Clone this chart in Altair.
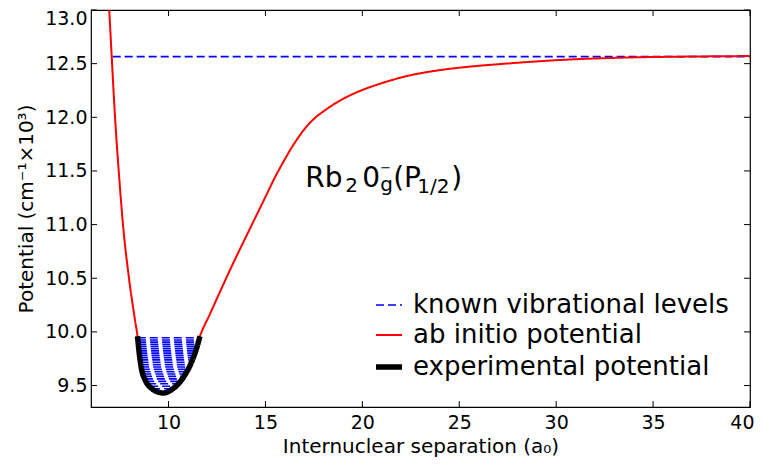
import altair as alt
import pandas as pd

# ---------------- data ----------------
series_names = ["known vibrational levels", "ab initio potential", "experimental potential"]
series_colors = ["#0000ff", "#ff0000", "#000000"]
series_dash = [[8, 4], [1, 0], [1, 0]]
series_width = [1.6, 2, 5.5]

# experimental potential (black, thick)
exp_x = [8.40, 8.49, 8.60, 8.80, 9.15, 9.45, 9.75, 10.10, 10.42, 10.85, 11.28, 11.50, 11.62]
exp_y = [9.96, 9.80, 9.66, 9.55, 9.47, 9.44, 9.43, 9.455, 9.50, 9.60, 9.76, 9.88, 9.96]

# ab initio potential (red): inner wall, well, outer wall
ab_x = [6.94, 7.07, 7.24, 7.43, 7.65, 7.96, 8.27,
        8.40, 8.49, 8.60, 8.80, 9.15, 9.45, 9.75, 10.10, 10.42, 10.85, 11.28, 11.62,
        12.14, 12.69, 13.33, 14.00, 14.67, 15.07, 15.49, 15.91, 16.27, 16.68, 17.13, 17.56,
        17.99, 18.85, 19.67, 20.55, 21.43, 22.29, 24.01, 25.71, 27.10, 30.20, 33.64, 36.91, 40.0]
ab_y = [13.0, 12.56, 12.0, 11.5, 11.0, 10.5, 10.11,
        9.96, 9.80, 9.66, 9.55, 9.47, 9.44, 9.43, 9.455, 9.50, 9.60, 9.77, 9.96,
        10.168, 10.388, 10.638, 10.888, 11.136, 11.284, 11.440, 11.580, 11.693, 11.808, 11.916, 11.995,
        12.055, 12.156, 12.230, 12.291, 12.342, 12.384, 12.440, 12.475, 12.496, 12.534, 12.557, 12.566, 12.571]

# known vibrational levels (blue dashed), energies and turning points
lev_y = [9.470, 9.493, 9.516, 9.539, 9.562, 9.585, 9.607, 9.629, 9.651, 9.673, 9.695, 9.717,
         9.739, 9.760, 9.781, 9.802, 9.823, 9.844, 9.865, 9.885, 9.905, 9.925, 9.945]
lev_left = [9.15, 9.05, 8.95, 8.85, 8.78, 8.74, 8.70, 8.66, 8.62, 8.59, 8.57, 8.555,
            8.54, 8.52, 8.505, 8.49, 8.48, 8.465, 8.455, 8.44, 8.43, 8.42, 8.41]
lev_right = [10.21, 10.37, 10.49, 10.59, 10.69, 10.79, 10.87, 10.93, 10.99, 11.05, 11.10, 11.16,
             11.22, 11.28, 11.32, 11.36, 11.40, 11.43, 11.47, 11.51, 11.54, 11.58, 11.60]
# top known level line
top_level_y = 12.565
top_level_x = [7.12, 40.0]

x_ticks = [10, 15, 20, 25, 30, 35, 40]
y_ticks = [9.5, 10.0, 10.5, 11.0, 11.5, 12.0, 12.5, 13.0]
x_domain = [6, 40]
y_domain = [9.3, 13.0]

# annotation anchor (data coords) and pieces
ann_x, ann_y = 17.05, 11.352
ann_pieces = [  # text, size, dx, dy
    ("Rb", 28, 0, 0),
    ("2", 20, 40, 5),
    ("0", 28, 57, 0),
    ("\u2212", 13, 75, -15),
    ("g", 20, 75, 4),
    ("(P", 28, 88, 0),
    ("1/2", 20, 112, 6),
    (")", 28, 146, 0),
]

# ---------------- build tables ----------------
lev_rows = []
for i, (yv, l, r) in enumerate(zip(lev_y, lev_left, lev_right)):
    lev_rows.append({"x": l, "y": yv, "series": series_names[0], "grp": f"v{i}"})
    lev_rows.append({"x": r, "y": yv, "series": series_names[0], "grp": f"v{i}"})
for xv in top_level_x:
    lev_rows.append({"x": xv, "y": top_level_y, "series": series_names[0], "grp": "top"})
lev_df = pd.DataFrame(lev_rows)

ab_df = pd.DataFrame({"x": ab_x, "y": ab_y, "series": series_names[1]})
exp_df = pd.DataFrame({"x": exp_x, "y": exp_y, "series": series_names[2]})

FONT = "DejaVu Sans"
W, H = 659, 397

xscale = alt.Scale(domain=x_domain, nice=False, zero=False)
yscale = alt.Scale(domain=y_domain, nice=False, zero=False)
xaxis = alt.Axis(values=x_ticks, format="d", title="Internuclear separation (a\u2080)",
                 labelPadding=6, titlePadding=4, labelFlush=True, labelFlushOffset=4)
yaxis = alt.Axis(values=y_ticks, format=".1f", title="Potential (cm\u207b\u00b9\u00d710\u00b3)",
                 labelPadding=4, titlePadding=8, labelFlush=True, labelFlushOffset=1)


def X():
    return alt.X("x:Q", scale=xscale, axis=xaxis)


def Y():
    return alt.Y("y:Q", scale=yscale, axis=yaxis)


def make_legend():
    return alt.Legend(
        title=None,
        orient="none",
        legendX=282,
        legendY=281,
        symbolType="stroke",
        symbolSize=676,
        labelFont=FONT,
        labelFontSize=26,
        labelColor="black",
        labelOffset=8,
        rowPadding=1,
        gridAlign="all",
        padding=0,
        labelLimit=500,
    )


color = alt.Color("series:N", scale=alt.Scale(domain=series_names, range=series_colors),
                  legend=make_legend())
dash = alt.StrokeDash("series:N", scale=alt.Scale(type="ordinal", domain=series_names, range=series_dash),
                      legend=make_legend())
swidth = alt.StrokeWidth("series:N", scale=alt.Scale(type="ordinal", domain=series_names, range=series_width),
                         legend=make_legend())

levels = alt.Chart(lev_df).mark_line(strokeCap="butt").encode(
    x=X(), y=Y(), color=color, strokeDash=dash, strokeWidth=swidth, detail="grp:N"
)
ab = alt.Chart(ab_df).mark_line(interpolate="monotone").encode(
    x=X(), y=Y(), color=color, strokeDash=dash, strokeWidth=swidth
)
expl = alt.Chart(exp_df).mark_line(interpolate="monotone", strokeCap="butt").encode(
    x=X(), y=Y(), color=color, strokeDash=dash, strokeWidth=swidth
)

# inward tick marks (box style)
xt_df = pd.DataFrame({"x": x_ticks})
yt_df = pd.DataFrame({"y": y_ticks})
tick_len = 6
xt_bottom = alt.Chart(xt_df).mark_rule(color="black", strokeWidth=1).encode(
    x=X(), y=alt.value(H), y2=alt.value(H - tick_len))
xt_top = alt.Chart(xt_df).mark_rule(color="black", strokeWidth=1).encode(
    x=X(), y=alt.value(0), y2=alt.value(tick_len))
yt_left = alt.Chart(yt_df).mark_rule(color="black", strokeWidth=1).encode(
    y=Y(), x=alt.value(0), x2=alt.value(tick_len))
yt_right = alt.Chart(yt_df).mark_rule(color="black", strokeWidth=1).encode(
    y=Y(), x=alt.value(W), x2=alt.value(W - tick_len))

ann_layers = []
for txt, size, dx, dy in ann_pieces:
    ann_layers.append(
        alt.Chart(pd.DataFrame({"x": [ann_x], "y": [ann_y]})).mark_text(
            text=txt, font=FONT, fontSize=size, align="left", baseline="alphabetic",
            dx=dx, dy=dy, color="black"
        ).encode(x=X(), y=Y())
    )

chart = alt.layer(
    levels, ab, expl, xt_bottom, xt_top, yt_left, yt_right, *ann_layers
).properties(
    width=W,
    height=H,
    autosize=alt.AutoSizeParams(type="none"),
    padding={"left": 83, "top": 2, "right": 5, "bottom": 52},
    background="white",
).configure_view(
    stroke="black", strokeWidth=1.2
).configure_axis(
    domain=False,
    ticks=False,
    grid=False,
    labelFont=FONT,
    labelFontSize=19,
    labelColor="black",
    titleFont=FONT,
    titleFontSize=20,
    titleFontWeight="normal",
    titleColor="black",
)

chart.save("out.html", embed_options={"renderer": "svg", "actions": False})
